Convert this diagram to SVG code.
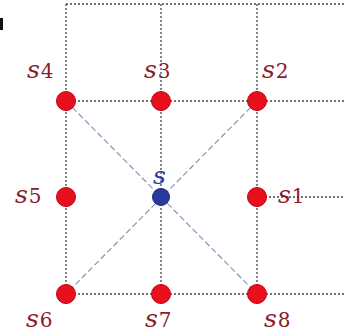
<svg xmlns="http://www.w3.org/2000/svg" width="345" height="334" viewBox="0 0 345 334">
<style>
.grid{stroke:#444;stroke-width:1.3;stroke-dasharray:2 2;fill:none}
.diag{stroke:#8796b8;stroke-width:1.2;stroke-dasharray:6 3;fill:none}
.red{fill:#e8101c;stroke:#c00010;stroke-width:1}
.blue{fill:#2a3a9a;stroke:#1a2a80;stroke-width:1}
.lbl{font-family:'DejaVu Serif','Liberation Serif',serif;fill:#8a1a2c}
.s{font-style:italic;font-size:25px}
.d{font-size:20px}
</style>
<rect width="345" height="334" fill="#fff"/>
<rect x="0" y="18" width="3" height="12" fill="#111"/>
<g id="connectors">
<line class="grid" x1="66" y1="4" x2="345" y2="4"/>
<line class="grid" x1="66" y1="101" x2="345" y2="101"/>
<line class="grid" x1="257" y1="197" x2="345" y2="197"/>
<line class="grid" x1="66" y1="294" x2="345" y2="294"/>
<line class="grid" x1="66" y1="4" x2="66" y2="294"/>
<line class="grid" x1="161" y1="4" x2="161" y2="294" stroke-width="1.6"/>
<line class="grid" x1="257" y1="4" x2="257" y2="294"/>
<line class="diag" x1="66" y1="101" x2="257" y2="294"/>
<line class="diag" x1="257" y1="101" x2="66" y2="294"/>
</g>
<g id="s4"><circle class="red" cx="66" cy="101" r="9.5"/><text class="lbl" x="27" y="78"><tspan class="s">s</tspan><tspan class="d" dx="1">4</tspan></text></g>
<g id="s3"><circle class="red" cx="161" cy="101" r="9.5"/><text class="lbl" x="144" y="78"><tspan class="s">s</tspan><tspan class="d" dx="1">3</tspan></text></g>
<g id="s2"><circle class="red" cx="257" cy="101" r="9.5"/><text class="lbl" x="262" y="78"><tspan class="s">s</tspan><tspan class="d" dx="1">2</tspan></text></g>
<g id="s5"><circle class="red" cx="66" cy="197" r="9.5"/><text class="lbl" x="15" y="203"><tspan class="s">s</tspan><tspan class="d" dx="1">5</tspan></text></g>
<g id="s"><circle class="blue" cx="161" cy="197" r="8.5"/><text class="lbl s" x="153" y="184" style="fill:#2a3aa8">s</text></g>
<g id="s1"><circle class="red" cx="257" cy="197" r="9.5"/><text class="lbl" x="278" y="203"><tspan class="s">s</tspan><tspan class="d" dx="1">1</tspan></text></g>
<g id="s6"><circle class="red" cx="66" cy="294" r="9.5"/><text class="lbl" x="26" y="327"><tspan class="s">s</tspan><tspan class="d" dx="1">6</tspan></text></g>
<g id="s7"><circle class="red" cx="161" cy="294" r="9.5"/><text class="lbl" x="145" y="327"><tspan class="s">s</tspan><tspan class="d" dx="1">7</tspan></text></g>
<g id="s8"><circle class="red" cx="257" cy="294" r="9.5"/><text class="lbl" x="264" y="327"><tspan class="s">s</tspan><tspan class="d" dx="1">8</tspan></text></g>
</svg>
